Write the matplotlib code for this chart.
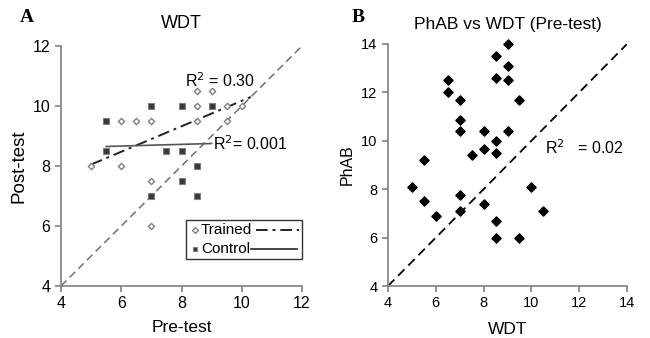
import matplotlib.pyplot as plt
from matplotlib.patches import Rectangle

plt.rcParams['font.family'] = ['Liberation Sans', 'DejaVu Sans']

# panel A: WDT pre vs post
trained_pre = [5, 6, 6.5, 7, 6, 7, 7, 8.5, 9, 8.5, 8.5, 9.5, 9.5, 10]
trained_post = [8, 9.5, 9.5, 9.5, 8, 7.5, 6, 10.5, 10.5, 10, 9.5, 10, 9.5, 10]
control_pre = [5.5, 5.5, 7, 8, 9, 7.5, 8, 8.5, 8, 7, 8.5]
control_post = [9.5, 8.5, 10, 10, 10, 8.5, 8.5, 8, 7.5, 7, 7]
# trend lines as drawn in the figure (end points)
trained_fit_x = [5, 10.3]
trained_fit_y = [8.05, 10.3]
control_fit_x = [5.5, 9.0]
control_fit_y = [8.65, 8.75]
r2_trained = '0.30'
r2_control = '0.001'

# panel B: PhAB vs WDT pre-test
wdt = [5, 5.5, 5.5, 6, 6.5, 6.5, 7, 7, 7, 7, 7, 7.5, 8, 8, 8,
       8.5, 8.5, 8.5, 8.5, 8.5, 8.5, 9, 9, 9, 9, 9.5, 9.5, 10, 10.5]
phab = [8.1, 9.2, 7.5, 6.9, 12.5, 12.0, 11.7, 10.85, 10.4, 7.75, 7.1, 9.4, 10.4, 9.65, 7.4,
        13.5, 12.6, 10.0, 9.5, 6.7, 6.0, 14.0, 13.1, 12.5, 10.4, 11.7, 6.0, 8.1, 7.1]
r2_b = '0.02'

fig = plt.figure(figsize=(6.5, 3.38), dpi=100)
W, H = 650, 338
axA = fig.add_axes([61 / W, 1 - 286 / H, 241 / W, 240 / H])
axB = fig.add_axes([388 / W, 1 - 286 / H, 239 / W, 242 / H])

grey = '#808080'
for ax in (axA, axB):
    for s in ('top', 'right'):
        ax.spines[s].set_visible(False)
    for s in ('left', 'bottom'):
        ax.spines[s].set_color(grey)
        ax.spines[s].set_linewidth(1.2)
    ax.tick_params(colors=grey, length=4, width=1.2, direction='out')

# --- A ---
axA.plot([4, 12], [4, 12], ls=(0, (5, 3)), color='#707070', lw=1.1)
axA.scatter(trained_pre, trained_post, marker='D', s=10, facecolor='white',
            edgecolor='#808080', linewidths=1.0, zorder=3)
axA.scatter(control_pre, control_post, marker='s', s=14, facecolor='#383838',
            edgecolor='#808080', linewidths=0.8, zorder=3)
axA.plot(trained_fit_x, trained_fit_y, color='#222222', lw=1.4, ls=(0, (6, 2.5, 1.5, 2.5)))
axA.plot(control_fit_x, control_fit_y, color='#555555', lw=1.2)
axA.text(8.1, 10.85, 'R$^2$ = ' + r2_trained, fontsize=11.5, va='center')
axA.text(9.05, 8.73, 'R$^2$= ' + r2_control, fontsize=11.5, va='center')

axA.set_xlim(4, 12)
axA.set_ylim(4, 12)
axA.set_xticks([4, 6, 8, 10, 12])
axA.set_yticks([4, 6, 8, 10, 12])
for lab in axA.get_xticklabels() + axA.get_yticklabels():
    lab.set_color('black')
    lab.set_fontsize(11.5)
axA.set_xlabel('Pre-test', fontsize=12.5, labelpad=6)
axA.set_ylabel('Post-test', fontsize=13.5, labelpad=4)
axA.set_title('WDT', fontsize=13, pad=13)

# legend drawn by hand (marker, label, line sample)
tr = axA.transAxes
axA.add_patch(Rectangle(((186 - 61) / 241, (286 - 259) / 240), 116 / 241, 39 / 240,
                        transform=tr, facecolor='white', edgecolor='#333333', lw=1.0,
                        zorder=4, clip_on=False))
yT = (286 - 230) / 240
yC = (286 - 249) / 240
axA.scatter([(195 - 61) / 241], [yT], transform=tr, marker='D', s=9, facecolor='white',
            edgecolor='#808080', linewidths=1.0, zorder=5, clip_on=False)
axA.scatter([(195 - 61) / 241], [yC], transform=tr, marker='s', s=12, facecolor='#383838',
            edgecolor='#808080', linewidths=0.8, zorder=5, clip_on=False)
axA.text((201 - 61) / 241, yT, 'Trained', transform=tr, fontsize=11, va='center', zorder=5)
axA.text((201 - 61) / 241, yC, 'Control', transform=tr, fontsize=11, va='center', zorder=5)
axA.plot([(256 - 61) / 241, (299 - 61) / 241], [yT, yT], transform=tr, color='#222222',
         lw=1.4, ls=(0, (6, 2.5, 1.5, 2.5)), zorder=5, clip_on=False)
axA.plot([(251 - 61) / 241, (297 - 61) / 241], [yC, yC], transform=tr, color='#222222',
         lw=1.2, zorder=5, clip_on=False)

# --- B ---
axB.plot([4, 14], [4, 14], ls=(0, (5, 3)), color='black', lw=1.3)
axB.scatter(wdt, phab, marker='D', s=22, color='black', zorder=3, clip_on=False)
axB.text(10.55, 9.7, 'R$^2$   = ' + r2_b, fontsize=11.5, va='center')
axB.set_xlim(4, 14)
axB.set_ylim(4, 14)
axB.set_xticks([4, 6, 8, 10, 12, 14])
axB.set_yticks([4, 6, 8, 10, 12, 14])
for lab in axB.get_xticklabels() + axB.get_yticklabels():
    lab.set_color('black')
    lab.set_fontsize(10.5)
axB.set_xlabel('WDT', fontsize=12.5, labelpad=8)
axB.set_ylabel('PhAB', fontsize=11.5, labelpad=5)
axB.set_title('PhAB vs WDT (Pre-test)', fontsize=12.5, pad=11)

fig.text(20 / W, 1 - 18 / H, 'A', fontsize=14, fontweight='bold', family='Liberation Serif',
         va='center')
fig.text(352 / W, 1 - 18 / H, 'B', fontsize=14, fontweight='bold', family='Liberation Serif',
         va='center')

fig.savefig('out.png', dpi=100)
